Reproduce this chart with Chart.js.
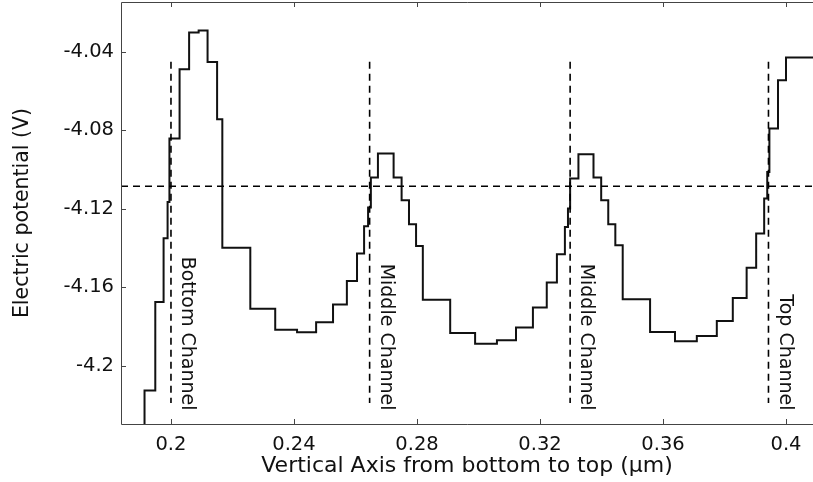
<!DOCTYPE html>
<html>
<head>
<meta charset="utf-8">
<script src="https://cdn.jsdelivr.net/npm/chart.js@4/dist/chart.umd.min.js"></script>
<style>
  html, body { margin: 0; padding: 0; background: #fff; overflow: hidden; }
  #wrap { width: 813px; height: 482px; position: relative; }
</style>
</head>
<body>
<div id="wrap"><canvas id="c"></canvas></div>
<script>
// Potential profile along the vertical axis (µm -> V); each entry starts a new level
const stepX = [0.1914, 0.1914, 0.1949, 0.1976, 0.1989, 0.1995, 0.2028, 0.2059, 0.2090, 0.2119,
  0.2150, 0.2167, 0.2258, 0.2339, 0.2410, 0.2472, 0.2527, 0.2572, 0.2605, 0.2628,
  0.2641, 0.2650, 0.2673, 0.2724, 0.2750, 0.2774, 0.2797, 0.2819, 0.2908, 0.2989,
  0.3060, 0.3122, 0.3177, 0.3222, 0.3255, 0.3281, 0.3291, 0.3298, 0.3325, 0.3374,
  0.3399, 0.3422, 0.3445, 0.3469, 0.3558, 0.3639, 0.3710, 0.3775, 0.3827, 0.3872,
  0.3903, 0.3929, 0.3939, 0.3946, 0.3974, 0.4000, 0.4100];
const stepV = [-4.2432, -4.2126, -4.1676, -4.1351, -4.1166, -4.0843, -4.0490, -4.0303, -4.0293, -4.0453,
  -4.0745, -4.1399, -4.1710, -4.1817, -4.1830, -4.1779, -4.1688, -4.1569, -4.1429, -4.1290,
  -4.1195, -4.1042, -4.0920, -4.1042, -4.1158, -4.1280, -4.1391, -4.1664, -4.1834, -4.1888,
  -4.1871, -4.1806, -4.1704, -4.1577, -4.1433, -4.1294, -4.1200, -4.1047, -4.0923, -4.1042,
  -4.1158, -4.1280, -4.1387, -4.1662, -4.1829, -4.1876, -4.1849, -4.1773, -4.1656, -4.1501,
  -4.1327, -4.1149, -4.1014, -4.0792, -4.0546, -4.0431, -4.0431];

// Channel markers and the reference potential level
const channelX = [0.2, 0.2646, 0.3298, 0.3943];
const channelNames = ['Bottom Channel', 'Middle Channel', 'Middle Channel', 'Top Channel'];
const channelTopV = -4.0452;
const channelBottomV = -4.219;
const labelEndV = -4.2228;
const refLevelV = -4.1086;

// Axis ticks and ranges
const xTicks = [0.2, 0.24, 0.28, 0.32, 0.36, 0.4];
const yTicks = [-4.2, -4.16, -4.12, -4.08, -4.04];
const xRange = [0.18375, 0.40878];
const yRange = [-4.22971, -4.01478];

const INK = '#111';
const FONT = 'DejaVu Sans';

const profile = stepX.map((x, i) => ({ x, y: stepV[i] }));

const dashStyle = { borderColor: '#000', borderWidth: 1.6, borderDash: [7, 5], pointRadius: 0, fill: false };

const datasets = [
  { label: 'reference', data: [{ x: xRange[0], y: refLevelV }, { x: xRange[1], y: refLevelV }], ...dashStyle },
  ...channelX.map((cx, i) => ({
    label: channelNames[i],
    data: [{ x: cx, y: channelTopV }, { x: cx, y: channelBottomV }],
    ...dashStyle
  })),
  { label: 'Electric potential', data: profile, stepped: 'before', borderColor: INK, borderWidth: 2,
    pointRadius: 0, fill: false, borderJoinStyle: 'miter' }
];

// Frame with inward tick marks, plus the rotated channel captions
const framePlugin = {
  id: 'frame',
  afterDatasetsDraw(chart) {
    const { ctx, chartArea: a, scales: { x, y } } = chart;
    ctx.save();
    ctx.strokeStyle = '#444';
    ctx.lineWidth = 1;
    ctx.beginPath();
    ctx.moveTo(a.right + 1, a.top + 0.5); ctx.lineTo(a.left + 0.5, a.top + 0.5);
    ctx.lineTo(a.left + 0.5, a.bottom + 0.5); ctx.lineTo(a.right + 1, a.bottom + 0.5);
    xTicks.forEach(v => {
      const px = Math.round(x.getPixelForValue(v)) + 0.5;
      ctx.moveTo(px, a.bottom); ctx.lineTo(px, a.bottom - 5);
      ctx.moveTo(px, a.top); ctx.lineTo(px, a.top + 5);
    });
    yTicks.forEach(v => {
      const py = Math.round(y.getPixelForValue(v)) + 0.5;
      ctx.moveTo(a.left, py); ctx.lineTo(a.left + 5, py);
    });
    ctx.stroke();

    ctx.fillStyle = INK;
    ctx.font = '19px "' + FONT + '"';
    ctx.textAlign = 'right';
    ctx.textBaseline = 'middle';
    channelX.forEach((cx, i) => {
      ctx.save();
      ctx.translate(x.getPixelForValue(cx) + 16, y.getPixelForValue(labelEndV));
      ctx.rotate(Math.PI / 2);
      ctx.fillText(channelNames[i], 0, 0);
      ctx.restore();
    });
    ctx.restore();
  }
};

new Chart(document.getElementById('c'), {
  type: 'line',
  data: { datasets },
  plugins: [framePlugin],
  options: {
    responsive: true,
    maintainAspectRatio: false,
    animation: false,
    layout: { padding: { top: 2, left: 0, right: 0, bottom: 0 } },
    plugins: { legend: { display: false }, tooltip: { enabled: false } },
    scales: {
      x: {
        type: 'linear',
        min: xRange[0], max: xRange[1],
        grid: { display: false, drawTicks: false },
        border: { display: false },
        afterBuildTicks: s => { s.ticks = xTicks.map(v => ({ value: v })); },
        afterFit: s => { s.height = 58; s.paddingLeft = 0; s.paddingRight = 0; },
        ticks: { color: INK, font: { family: FONT, size: 19.5 }, padding: 9, maxRotation: 0,
          callback: v => String(+v.toFixed(2)) },
        title: { display: true, text: 'Vertical Axis from bottom to top (µm)', color: INK,
          font: { family: FONT, size: 22 }, padding: { top: 0, bottom: 3 } }
      },
      y: {
        type: 'linear',
        min: yRange[0], max: yRange[1],
        grid: { display: false, drawTicks: false },
        border: { display: false },
        afterBuildTicks: s => { s.ticks = yTicks.map(v => ({ value: v })); },
        afterFit: s => { s.width = 121; s.paddingTop = 0; s.paddingBottom = 0; },
        ticks: { color: INK, font: { family: FONT, size: 19.5 }, padding: 7,
          callback: v => String(+v.toFixed(2)) },
        title: { display: true, text: 'Electric potential (V)', color: INK,
          font: { family: FONT, size: 20.5 }, padding: { top: 10, bottom: 0 } }
      }
    }
  }
});
</script>
</body>
</html>
